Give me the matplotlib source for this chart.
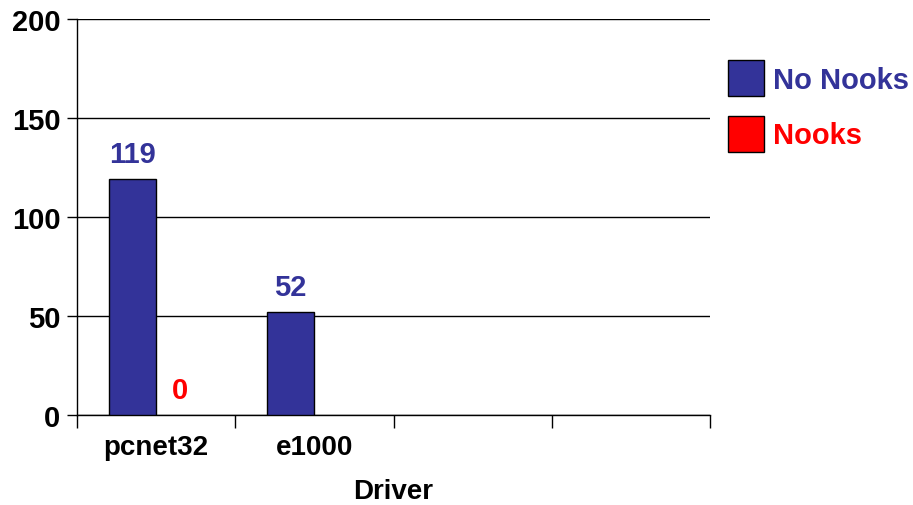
import matplotlib.pyplot as plt
import matplotlib.patches as mpatches
import numpy as np

plt.rcParams['font.family'] = ['Liberation Sans', 'DejaVu Sans']
plt.rcParams['font.weight'] = 'bold'

# data
drivers = ['pcnet32', 'e1000', '', '']
no_nooks = [119, 52, np.nan, np.nan]
nooks = [0, np.nan, np.nan, np.nan]
series = ['No Nooks', 'Nooks']
colors = ['#333399', '#FF0000']

fig = plt.figure(figsize=(9.13, 5.06), dpi=100)
ax = fig.add_axes([77 / 913, 90 / 506, 633 / 913, 396 / 506])

x = np.arange(len(drivers))
w = 0.3
for vals, off, col in [(no_nooks, -w / 2, colors[0]), (nooks, w / 2, colors[1])]:
    for xi, v in zip(x, vals):
        if np.isnan(v):
            continue
        ax.bar(xi + off, v, w, color=col, edgecolor='black',
               linewidth=1 if v > 0 else 0, zorder=3)
        ax.text(xi + off, v + 5.5, str(int(v)), ha='center', va='bottom',
                color=col, fontsize=21, fontweight='bold')

ax.set_xlim(-0.5, len(drivers) - 0.5)
ax.set_ylim(0, 200)
ax.set_yticks([0, 50, 100, 150, 200])
ax.yaxis.grid(True, color='black', linewidth=1)
ax.set_axisbelow(True)
ax.set_xticks(x)
ax.set_xticklabels(drivers)
ax.set_xticks(np.arange(len(drivers) + 1) - 0.5, minor=True)
ax.tick_params(axis='x', which='major', length=0, pad=14, labelsize=20)
ax.tick_params(axis='x', which='minor', length=9, width=1, direction='out')
ax.tick_params(axis='y', length=7, width=1, labelsize=21, pad=5)
for s in ['top', 'right']:
    ax.spines[s].set_visible(False)
ax.spines['left'].set_linewidth(1)
ax.spines['bottom'].set_linewidth(1)
ax.set_xlabel('Driver', fontsize=20, fontweight='bold', labelpad=13)

handles = [mpatches.Patch(facecolor=c, edgecolor='black', label=l) for l, c in zip(series, colors)]
leg = fig.legend(handles=handles, loc='upper left', bbox_to_anchor=(728 / 913, 1 - 61 / 506),
                 frameon=False, fontsize=21, handlelength=1.25, handleheight=1.52,
                 handletextpad=0.3, labelspacing=0.68, borderaxespad=0, borderpad=0)
for t, c in zip(leg.get_texts(), colors):
    t.set_color(c)
    t.set_fontweight('bold')

fig.savefig('out.png', dpi=100)
